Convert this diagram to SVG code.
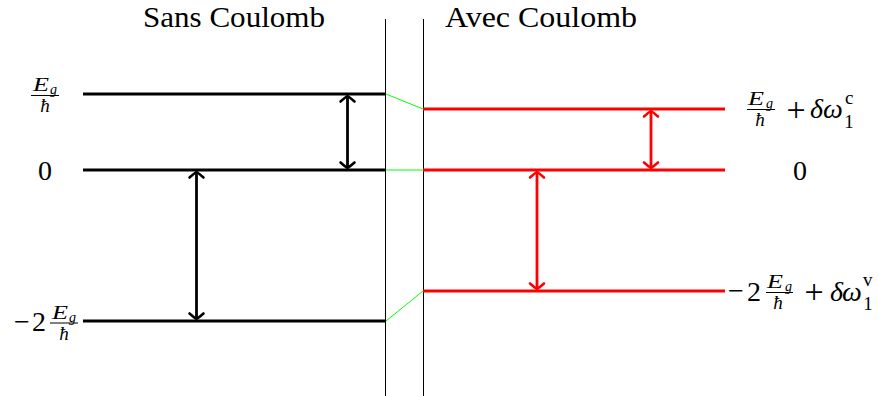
<svg xmlns="http://www.w3.org/2000/svg" width="879" height="396" viewBox="0 0 879 396">
<style>
  text { font-family: "Liberation Serif", "DejaVu Serif", serif; fill: #000; }
  .t { font-size: 30px; }
  .m { font-size: 28px; }
  .p { font-size: 34px; }
  .i { font-style: italic; }
  .f { font-size: 19px; }
  .s { font-size: 14px; }
  .lvk { stroke: #000; stroke-width: 3; fill: none; }
  .lvr { stroke: #ff0000; stroke-width: 3; fill: none; }
  .sep { stroke: #000; stroke-width: 1; }
  .bar { stroke: #000; stroke-width: 1; }
  .g { stroke: #00ff00; stroke-width: 1; fill: none; }
  .ak { stroke: #000; stroke-width: 2.8; fill: none; marker-start: url(#hk); marker-end: url(#hk); }
  .ar { stroke: #ff0000; stroke-width: 2.8; fill: none; marker-start: url(#hr); marker-end: url(#hr); }
</style>
<defs>
  <marker id="hk" markerUnits="userSpaceOnUse" markerWidth="20" markerHeight="20" viewBox="-10 -10 20 20" refX="0" refY="0" orient="auto-start-reverse" overflow="visible">
    <path d="M-5.5,-7 Q-1.5,-2.5 0,0 Q-1.5,2.5 -5.5,7" fill="none" stroke="#000" stroke-width="2.6" stroke-linecap="round" stroke-linejoin="round"/>
  </marker>
  <marker id="hr" markerUnits="userSpaceOnUse" markerWidth="20" markerHeight="20" viewBox="-10 -10 20 20" refX="0" refY="0" orient="auto-start-reverse" overflow="visible">
    <path d="M-5.5,-7 Q-1.5,-2.5 0,0 Q-1.5,2.5 -5.5,7" fill="none" stroke="#ff0000" stroke-width="2.6" stroke-linecap="round" stroke-linejoin="round"/>
  </marker>
</defs>
<rect width="879" height="396" fill="#fff"/>

<g id="titles">
  <text class="t" x="143" y="27" textLength="182" lengthAdjust="spacingAndGlyphs">Sans Coulomb</text>
  <text class="t" x="445" y="27" textLength="192" lengthAdjust="spacingAndGlyphs">Avec Coulomb</text>
</g>

<g id="separators">
  <line class="sep" x1="385.5" y1="19" x2="385.5" y2="396"/>
  <line class="sep" x1="423.5" y1="19" x2="423.5" y2="396"/>
</g>

<g id="levels-sans">
  <line id="lvl-sans-top" class="lvk" x1="83" y1="94" x2="386" y2="94"/>
  <line id="lvl-sans-zero" class="lvk" x1="83" y1="170" x2="386" y2="170"/>
  <line id="lvl-sans-bottom" class="lvk" x1="83" y1="321" x2="386" y2="321"/>
</g>

<g id="levels-avec">
  <line id="lvl-avec-top" class="lvr" x1="423" y1="109" x2="725" y2="109"/>
  <line id="lvl-avec-zero" class="lvr" x1="423" y1="170" x2="725" y2="170"/>
  <line id="lvl-avec-bottom" class="lvr" x1="423" y1="291" x2="725" y2="291"/>
</g>

<g id="label-left-top">
  <text class="f i" x="33" y="91" textLength="16" lengthAdjust="spacingAndGlyphs">E</text>
  <text class="s i" x="50" y="94">g</text>
  <line class="bar" x1="31" y1="95.5" x2="59" y2="95.5"/>
  <text class="f i" x="45" y="112" text-anchor="middle">ħ</text>
</g>

<g id="label-left-zero">
  <text class="m" x="45" y="180" text-anchor="middle">0</text>
</g>

<g id="label-left-bottom">
  <text class="m" x="22" y="331" text-anchor="middle">−</text>
  <text class="m" x="39" y="331" text-anchor="middle">2</text>
  <text class="f i" x="52" y="319" textLength="16" lengthAdjust="spacingAndGlyphs">E</text>
  <text class="s i" x="69" y="322">g</text>
  <line class="bar" x1="50" y1="323" x2="78" y2="323"/>
  <text class="f i" x="64" y="340" text-anchor="middle">ħ</text>
</g>

<g id="label-right-top">
  <text class="f i" x="748" y="105" textLength="16" lengthAdjust="spacingAndGlyphs">E</text>
  <text class="s i" x="766" y="108">g</text>
  <line class="bar" x1="747" y1="109.5" x2="775" y2="109.5"/>
  <text class="f i" x="760" y="126" text-anchor="middle">ħ</text>
  <text class="p" x="796" y="121" text-anchor="middle">+</text>
  <text class="m i" x="810" y="118">δ</text>
  <text class="m i" x="823" y="118">ω</text>
  <text class="f" x="845" y="104">c</text>
  <text class="f" x="849" y="128" text-anchor="middle">1</text>
</g>

<g id="label-right-zero">
  <text class="m" x="800" y="180" text-anchor="middle">0</text>
</g>

<g id="label-right-bottom">
  <text class="m" x="736" y="300" text-anchor="middle">−</text>
  <text class="m" x="754" y="301" text-anchor="middle">2</text>
  <text class="f i" x="767" y="288" textLength="16" lengthAdjust="spacingAndGlyphs">E</text>
  <text class="s i" x="785" y="291">g</text>
  <line class="bar" x1="766" y1="292.5" x2="793" y2="292.5"/>
  <text class="f i" x="778" y="309" text-anchor="middle">ħ</text>
  <text class="p" x="814" y="303" text-anchor="middle">+</text>
  <text class="m i" x="830" y="301">δ</text>
  <text class="m i" x="842" y="301">ω</text>
  <text class="f" x="863" y="286">v</text>
  <text class="f" x="868" y="310" text-anchor="middle">1</text>
</g>

<g id="connectors">
  <line class="g" x1="386" y1="94" x2="423" y2="109"/>
  <line class="g" x1="386" y1="170" x2="423" y2="170"/>
  <line class="g" x1="386" y1="321" x2="423" y2="291"/>
  <line class="ak" x1="347.5" y1="96" x2="347.5" y2="168"/>
  <line class="ak" x1="196.5" y1="172" x2="196.5" y2="319"/>
  <line class="ar" x1="651" y1="111" x2="651" y2="168"/>
  <line class="ar" x1="537" y1="172" x2="537" y2="289"/>
</g>
</svg>
